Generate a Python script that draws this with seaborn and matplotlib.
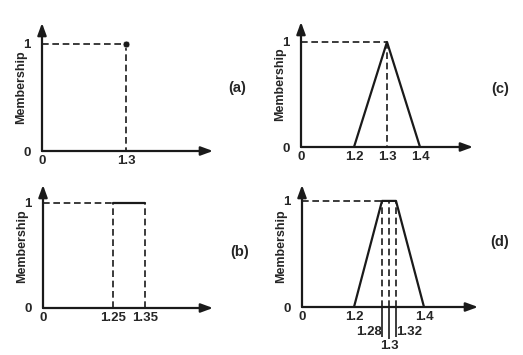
import numpy as np
import pandas as pd
import matplotlib
matplotlib.use('Agg')
import matplotlib.pyplot as plt
import seaborn as sns

# membership functions for x = 1.3 (four representations)
a_point = [1.3]
b_lo, b_hi = 1.25, 1.35
c_x = [1.2, 1.3, 1.4]
c_y = [0, 1, 0]
d_x = [1.2, 1.28, 1.32, 1.4]
d_y = [0, 1, 1, 0]
d_marks = [1.28, 1.3, 1.32]

sns.set_theme(style='white')
plt.rcParams['font.family'] = ['Liberation Sans', 'DejaVu Sans']
plt.rcParams['font.weight'] = 'bold'

W, H = 523, 355
fig = plt.figure(figsize=(W / 100, H / 100), dpi=100)

LW = 1.6
FS = 9.5
DASH = dict(color='k', lw=1.2, dashes=(4, 2.2))


def broken_scale(p12, k):
    # axis is broken between 0 and 1.2 (schematic, like the original)
    brk = 1.1
    s0 = (p12 - 0.1 * k) / brk

    def fwd(v):
        v = np.asarray(v, dtype=float)
        return np.where(v < brk, v * s0, p12 + (v - 1.2) * k)

    def inv(p):
        p = np.asarray(p, dtype=float)
        return np.where(p < brk * s0, p / s0, 1.2 + (p - p12) / k)
    return fwd, inv


def make_axes(left, axis_y, right, top, ytop, p12, k, ylab_pos):
    ax = fig.add_axes([left / W, (H - axis_y) / H, (right - left) / W, (axis_y - top) / H])
    fwd, inv = broken_scale(p12, k)
    ax.set_xscale('function', functions=(fwd, inv))
    ax.set_xlim(0, float(inv(right - left)))
    ax.set_ylim(0, ytop)
    for s in ax.spines.values():
        s.set_visible(False)
    ax.patch.set_alpha(0)
    arrow = dict(arrowstyle='-|>,head_length=0.6,head_width=0.22', color='k', lw=LW,
                 shrinkA=0, shrinkB=0)
    ax.annotate('', xy=(1, 0), xytext=(0, 0), xycoords='axes fraction', arrowprops=arrow)
    ax.annotate('', xy=(0, 1), xytext=(0, 0), xycoords='axes fraction', arrowprops=arrow)
    ax.set_yticks([0, 1])
    ax.set_yticklabels(['0', '1'])
    ax.tick_params(axis='y', length=0, pad=8, labelsize=FS)
    ax.tick_params(axis='x', length=0, pad=3, labelsize=FS)
    ax.yaxis.set_label_coords(-0.085, ylab_pos)
    return ax


def line(ax, xs, ys, dashed=False):
    df = pd.DataFrame({'x': xs, 'y': ys})
    if dashed:
        sns.lineplot(data=df, x='x', y='y', sort=False, estimator=None, ax=ax, **DASH)
    else:
        sns.lineplot(data=df, x='x', y='y', sort=False, estimator=None, ax=ax,
                     color='k', lw=LW)
    ax.set_xlabel('')
    ax.set_ylabel('Membership', fontsize=9, fontweight='bold')


# (a) crisp point
ax = make_axes(42, 151, 213, 23, 1.196, 51, 330, 0.40)
line(ax, [0, a_point[0]], [1, 1], dashed=True)
line(ax, [a_point[0], a_point[0]], [1, 0], dashed=True)
sns.scatterplot(x=a_point, y=[1], color='k', s=24, ax=ax, zorder=5, clip_on=False)
ax.set_xticks([0] + a_point)
ax.set_xticklabels(['0', '1.3'])

# (b) interval
ax = make_axes(43, 308, 213, 185, 1.17, 54, 320, 0.43)
line(ax, [0, b_lo], [1, 1], dashed=True)
line(ax, [b_lo, b_hi], [1, 1])
line(ax, [b_lo, b_lo], [0, 1], dashed=True)
line(ax, [b_hi, b_hi], [0, 1], dashed=True)
ax.set_xticks([0, b_lo, b_hi])
ax.set_xticklabels(['0', '1.25', '1.35'])

# (c) triangle
ax = make_axes(301, 147, 473, 22, 1.19, 53, 330, 0.39)
line(ax, [0, c_x[1]], [1, 1], dashed=True)
line(ax, [c_x[1], c_x[1]], [1, 0], dashed=True)
line(ax, c_x, c_y)
ax.set_xticks([0] + c_x)
ax.set_xticklabels(['0', '1.2', '1.3', '1.4'])

# (d) trapezoid
ax = make_axes(302, 307, 478, 185, 1.15, 52, 350, 0.43)
line(ax, [0, d_x[1]], [1, 1], dashed=True)
for m in d_marks:
    line(ax, [m, m], [0, 1], dashed=True)
line(ax, d_x, d_y)
ax.set_xticks([0, d_x[0], d_x[-1]])
ax.set_xticklabels(['0', '1.2', '1.4'])
xt = ax.get_xaxis_transform()
ax.vlines(d_marks, [-0.245, -0.26, -0.245], 0, colors='k', lw=1.2, transform=xt, clip_on=False)
ax.text(d_marks[0], -0.205, '1.28', ha='right', va='center', transform=xt, fontsize=FS)
ax.text(d_marks[2], -0.205, '1.32', ha='left', va='center', transform=xt, fontsize=FS)
ax.text(d_marks[1], -0.32, '1.3', ha='center', va='center', transform=xt, fontsize=FS)

# panel tags
for tag, x, y in [('(a)', 237, 88), ('(b)', 240, 252), ('(c)', 500, 89), ('(d)', 500, 242)]:
    fig.text(x / W, 1 - y / H, tag, ha='center', va='center', fontsize=10.5, fontweight='bold')

fig.savefig('out.png', dpi=100)
